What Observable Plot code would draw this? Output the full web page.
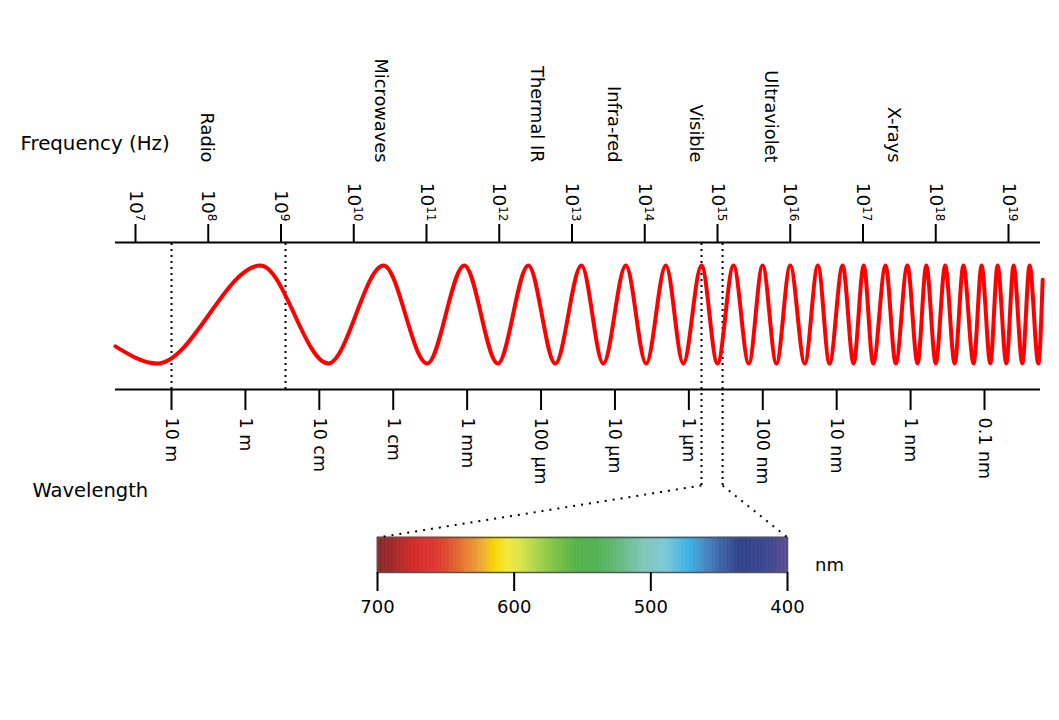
<!DOCTYPE html>
<html><head><meta charset="utf-8">
<script src="https://cdn.jsdelivr.net/npm/d3@7"></script>
<script src="https://cdn.jsdelivr.net/npm/@observablehq/plot@0.6"></script>
<style>
body{margin:0;background:#fff;}
#chart{position:relative;width:1059px;height:720px;background:#fff;}
#chart svg{position:absolute;left:0;top:0;}
</style></head><body><div id="chart"></div>
<script>
// ---------------- data ----------------
const freqExponents = [7,8,9,10,11,12,13,14,15,16,17,18,19];
const bandNames = ["Radio","Microwaves","Thermal IR","Infra-red","Visible","Ultraviolet","X-rays"];
const bandLabelExp = [8.07,10.46,12.61,13.67,14.79,15.83,17.52];
const wavelengthMeters = [10,1,0.1,0.01,1e-3,1e-4,1e-5,1e-6,1e-7,1e-8,1e-9,1e-10];
const wavelengthLabels = ["10 m","1 m","10 cm","1 cm","1 mm","100 µm","10 µm","1 µm","100 nm","10 nm","1 nm","0.1 nm"];
const radioMarkerExp = [7.495, 9.062];
const visibleMarkerExp = [14.78, 15.07];
// wave: log10(frequency) of start, extrema, end  and relative amplitude
const waveExp = [6.725, 7.30, 8.72, 9.65, 10.41, 11.01, 11.52, 11.98, 12.40, 12.77, 13.13,
  13.43, 13.74, 14.02, 14.29, 14.53, 14.78, 15.00, 15.22, 15.43, 15.62,
  15.81, 16.00, 16.20, 16.38, 16.54, 16.72, 16.87, 17.01, 17.14, 17.31,
  17.45, 17.61, 17.75, 17.87, 18.00, 18.13, 18.26, 18.38, 18.52, 18.63,
  18.75, 18.85, 18.97, 19.07, 19.19, 19.29, 19.41, 19.47];
const waveAmp = [-0.65, -1, 1, -1, 1, -1, 1, -1, 1, -1, 1,
  -1, 1, -1, 1, -1, 1, -1, 1, -1, 1,
  -1, 1, -1, 1, -1, 1, -1, 1, -1, 1,
  -1, 1, -1, 1, -1, 1, -1, 1, -1, 1,
  -1, 1, -1, 1, -1, 1, -1, 0.71];
const visibleNm = [700, 600, 500, 400];
const spectrumStopsNm = [400,415,435,447,460,472,490,505,525,540,555,570,585,595,605,615,622,632,645,655,670,680,690,700];
const spectrumStopsColor = ["#5b4b92","#3a4690","#2f4088","#3a5ea4","#4588c2","#3cb0e6","#7ec8d6","#80c6b8","#62b878","#50b050","#52b448","#7cc246","#b0d64a","#d8e448","#f2ea3a","#f6d400","#efb030","#e88a32","#e05a2c","#dc3a30","#d92b2b","#c42828","#9a2828","#8b2525"];

// ---------------- layout ----------------
const W = 1059, H = 720;
const FONT = "DejaVu Sans";
const style = {background: "transparent", overflow: "visible", fontFamily: FONT};
const Y_TOP = 1.469, Y_BOT = -1.531, PX = 1 / 49;         // wave-amplitude units per pixel
const Y_VIS_LOW = Y_BOT - 96 * PX, Y_BAR_TOP = Y_BOT - 148 * PX;
const AXIS_EXT = [6.725, 19.44];

const xScaleA = Plot.scale({x: {type: "log", domain: [1e7, 1e19], range: [135, W - 51]}});
const xScaleC = Plot.scale({x: {type: "linear", domain: [700, 400], range: [377, W - 272]}});

const wave = waveExp.map((e, i) => ({f: 10 ** e, a: waveAmp[i]}));
const bands = bandNames.map((name, i) => ({name, f: 10 ** bandLabelExp[i]}));
const connectors = [
  {f1: 10 ** visibleMarkerExp[0], f2: xScaleA.invert(xScaleC.apply(visibleNm[0]))},
  {f1: 10 ** visibleMarkerExp[1], f2: xScaleA.invert(xScaleC.apply(visibleNm[3]))}
];

// ---------------- main diagram (frequency scale) ----------------
const plotA = Plot.plot({
  width: W, height: H, marginLeft: 135, marginRight: 51, marginTop: 242, marginBottom: 331,
  x: {type: "log", domain: [1e7, 1e19], axis: null},
  y: {domain: [Y_BOT, Y_TOP], axis: null},
  style,
  marks: [
    Plot.ruleX(radioMarkerExp, {x: e => 10 ** e, y1: Y_BOT, y2: Y_TOP, stroke: "#000", strokeWidth: 2, strokeDasharray: "2,4"}),
    Plot.ruleX(visibleMarkerExp, {x: e => 10 ** e, y1: Y_VIS_LOW, y2: Y_TOP, stroke: "#000", strokeWidth: 2, strokeDasharray: "2,4"}),
    Plot.link(connectors, {x1: "f1", x2: "f2", y1: Y_VIS_LOW, y2: Y_BAR_TOP, stroke: "#000", strokeWidth: 2, strokeDasharray: "2,6"}),
    Plot.line(wave, {x: "f", y: "a", stroke: "#ff0000", strokeWidth: 4, curve: "monotone-x"}),
    Plot.ruleY([Y_TOP, Y_BOT], {x1: 10 ** AXIS_EXT[0], x2: 10 ** AXIS_EXT[1], stroke: "#000", strokeWidth: 2}),
    Plot.axisX(freqExponents.map(e => 10 ** e), {anchor: "top", tickSize: 19, tickPadding: 2, tickRotate: 90,
      strokeWidth: 2, fontSize: 18.5, tickFormat: d => "10^" + Math.round(Math.log10(d))}),
    Plot.text(bands, {x: "f", text: "name", frameAnchor: "top", dy: -80, rotate: 90, textAnchor: "end", fontSize: 17.8}),
    Plot.text(["Frequency (Hz)"], {text: d => d, frameAnchor: "top-left", dx: -115, dy: -107, textAnchor: "start", fontSize: 19.8}),
    Plot.text(["Wavelength"], {text: d => d, frameAnchor: "bottom-left", dx: -103, dy: 107, textAnchor: "start", fontSize: 19.5})
  ]
});
// superscripts for powers of ten
d3.select(plotA).selectAll("text").each(function () {
  const m = /^10\^(\d+)$/.exec(this.textContent);
  if (m) {
    this.textContent = "10";
    d3.select(this).append("tspan").attr("font-size", "12px").attr("dy", "-0.5em").text(m[1]);
  }
});

// ---------------- wavelength axis ----------------
const plotB = Plot.plot({
  width: W, height: H, marginLeft: 171, marginRight: 75, marginTop: 242, marginBottom: 331,
  x: {type: "log", domain: [10, 1e-10], axis: null},
  style,
  marks: [
    Plot.axisX(wavelengthMeters, {anchor: "bottom", tickSize: 21, tickPadding: 7, tickRotate: 90, strokeWidth: 2,
      fontSize: 17.5, tickFormat: d => wavelengthLabels[wavelengthMeters.indexOf(d)]})
  ]
});

// ---------------- visible spectrum ----------------
const nmSteps = d3.range(400, 700);
const plotC = Plot.plot({
  width: W, height: H, marginLeft: 377, marginRight: 272, marginTop: 537, marginBottom: 148,
  x: {type: "linear", domain: [700, 400], axis: null},
  y: {domain: [0, 1], axis: null},
  color: {type: "linear", domain: spectrumStopsNm, range: spectrumStopsColor},
  style,
  marks: [
    Plot.rect(nmSteps, {x1: d => d, x2: d => d + 1, y1: 0, y2: 1, fill: d => d + 0.5, stroke: d => d + 0.5, strokeWidth: 0.6}),
    Plot.frame({stroke: "#555", strokeWidth: 1.5}),
    Plot.axisX(visibleNm, {anchor: "bottom", tickSize: 19, tickPadding: 9, strokeWidth: 2, fontSize: 18}),
    Plot.text(["nm"], {text: d => d, frameAnchor: "right", dx: 42, dy: 10.5, textAnchor: "middle", fontSize: 18})
  ]
});

const root = document.getElementById("chart");
root.append(plotC, plotA, plotB);
</script>
</body></html>
